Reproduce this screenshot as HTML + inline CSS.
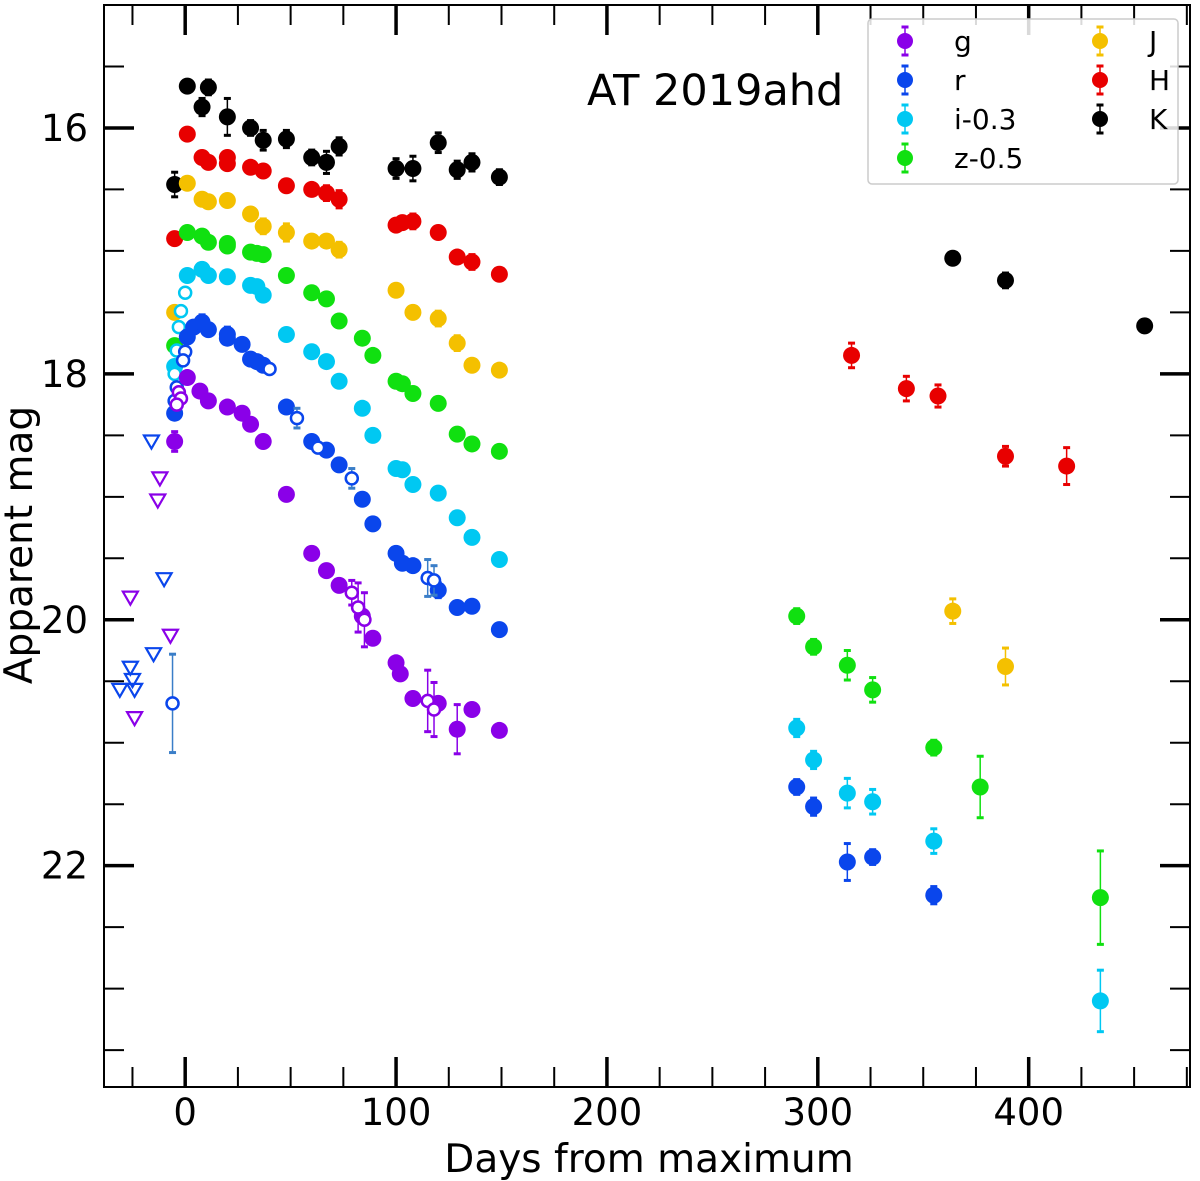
<!DOCTYPE html>
<html><head><meta charset="utf-8"><style>
html,body{margin:0;padding:0;background:#fff}
svg{display:block;font-family:"DejaVu Sans","Liberation Sans",sans-serif}
</style></head><body>
<svg id="chart" width="1200" height="1181" viewBox="0 0 1200 1181" xmlns="http://www.w3.org/2000/svg"></svg>
<script>
// ---- data ----
const kDays=[-5,1,8,11,20,31,37,48,60,67,73,100,108,120,129,136,149,364,389,455];
const kMags=[16.46,15.66,15.83,15.67,15.91,16.0,16.1,16.09,16.24,16.28,16.15,16.33,16.33,16.12,16.34,16.28,16.4,17.06,17.24,17.61];
const kErr=[0.1,0.03,0.07,0.06,0.15,0.06,0.08,0.07,0.06,0.09,0.07,0.08,0.1,0.08,0.07,0.07,0.06,0.05,0.06,0.05];
const hDays=[-5,1,8,11,20,20,31,37,48,60,67,73,100,103,108,120,129,136,149,316,342,357,389,418];
const hMags=[16.9,16.05,16.24,16.28,16.24,16.29,16.32,16.35,16.47,16.5,16.53,16.58,16.79,16.77,16.76,16.85,17.05,17.09,17.19,17.85,18.12,18.18,18.67,18.75];
const hErr=[0.05,0.02,0.05,0.05,0.05,0.05,0.03,0.03,0.05,0.05,0.06,0.07,0.04,0.04,0.06,0.05,0.05,0.06,0.05,0.1,0.1,0.09,0.08,0.15];
const jDays=[-5,1,8,11,20,31,37,48,60,67,73,100,108,120,129,136,149,364,389];
const jMags=[17.5,16.45,16.58,16.6,16.59,16.7,16.8,16.85,16.92,16.92,16.99,17.32,17.5,17.55,17.75,17.93,17.97,19.93,20.38];
const jErr=[0.03,0.02,0.03,0.03,0.03,0.03,0.06,0.07,0.04,0.05,0.06,0.04,0.05,0.06,0.06,0.05,0.04,0.1,0.15];
const zDays=[-5,1,8,11,20,20,31,34,37,48,60,67,73,84,89,100,103,108,120,129,136,149,290,298,314,326,355,377,434];
const zMags=[17.77,16.85,16.88,16.93,16.96,16.94,17.01,17.02,17.03,17.2,17.34,17.39,17.57,17.71,17.85,18.06,18.08,18.16,18.24,18.49,18.57,18.63,19.97,20.22,20.37,20.57,21.04,21.36,22.26];
const zErr=[0.03,0.02,0.02,0.02,0.02,0.02,0.02,0.02,0.02,0.02,0.02,0.02,0.02,0.02,0.02,0.02,0.02,0.02,0.02,0.05,0.03,0.02,0.06,0.06,0.12,0.1,0.06,0.25,0.38];
const iDays=[-5,1,8,11,20,31,34,37,48,60,67,73,84,89,100,103,108,120,129,136,149,290,298,314,326,355,434];
const iMags=[17.94,17.2,17.15,17.2,17.21,17.28,17.29,17.36,17.68,17.82,17.9,18.06,18.28,18.5,18.77,18.78,18.9,18.97,19.17,19.33,19.51,20.88,21.14,21.41,21.48,21.8,23.1];
const iErr=[0.02,0.02,0.02,0.02,0.02,0.02,0.02,0.02,0.02,0.02,0.02,0.02,0.02,0.02,0.02,0.02,0.02,0.02,0.02,0.02,0.02,0.07,0.07,0.12,0.1,0.1,0.25];
const iOpenDays=[0,-2,-3,-4,-5];
const iOpenMags=[17.34,17.49,17.62,17.81,18.0];
const rDays=[-5,1,4,8,11,20,20,27,31,34,37,48,60,67,73,84,89,100,103,108,120,129,136,149,290,298,314,326,355];
const rMags=[18.32,17.7,17.62,17.58,17.64,17.68,17.71,17.76,17.88,17.9,17.93,18.27,18.55,18.62,18.74,19.02,19.22,19.46,19.54,19.56,19.76,19.9,19.89,20.08,21.36,21.52,21.97,21.93,22.24];
const rErr=[0.03,0.05,0.05,0.06,0.03,0.06,0.03,0.03,0.03,0.03,0.03,0.03,0.03,0.03,0.03,0.03,0.03,0.03,0.03,0.03,0.06,0.05,0.03,0.03,0.06,0.07,0.15,0.06,0.07];
const rOpenDays=[0,-1,-4,-5,40,53,63,79,115,118,-6];
const rOpenMags=[17.82,17.89,18.11,18.22,17.96,18.36,18.6,18.85,19.66,19.68,20.68];
const rOpenErr=[0.02,0.02,0.02,0.02,0.03,0.08,0.03,0.08,0.15,0.12,0.4];
const gDays=[-5,1,7,11,20,27,31,37,48,60,67,73,84,89,100,102,108,120,129,136,149];
const gMags=[18.55,18.03,18.14,18.22,18.27,18.32,18.41,18.55,18.98,19.46,19.6,19.72,19.97,20.15,20.35,20.44,20.64,20.68,20.89,20.73,20.9];
const gErr=[0.08,0.02,0.02,0.02,0.02,0.02,0.02,0.02,0.02,0.02,0.02,0.02,0.03,0.03,0.03,0.04,0.02,0.02,0.2,0.02,0.02];
const gOpenDays=[-3,-2,-4,79,82,85,115,118];
const gOpenMags=[18.15,18.2,18.25,19.78,19.9,20.0,20.66,20.73];
const gOpenErr=[0.02,0.02,0.02,0.1,0.2,0.22,0.25,0.22];
const rLimDays=[-16,-10,-15,-26,-31,-24,-25];
const rLimMags=[18.55,19.67,20.28,20.39,20.57,20.57,20.49];
const gLimDays=[-12,-13,-26,-7,-24];
const gLimMags=[18.85,19.03,19.82,20.13,20.8];
const xTicks=[0,100,200,300,400];
const yTicks=[16,18,20,22];

const C={g:'#8a00e8',r:'#0a46ec',i:'#00c8f2',z:'#10e010',J:'#f4c000',H:'#e80000',K:'#000000'};
const L=104,R=1190,T=5,B=1087;
const X0=-38.5,X1=476.5,Y0=15.0,Y1=23.8;
function sx(d){return L+(d-X0)/(X1-X0)*(R-L);}
function sy(m){return T+(m-Y0)/(Y1-Y0)*(B-T);}
const NS='http://www.w3.org/2000/svg';
const svg=document.getElementById('chart');
function mk(tag,attrs,parent){const e=document.createElementNS(NS,tag);for(const k in attrs)e.setAttribute(k,attrs[k]);(parent||svg).appendChild(e);return e;}

const frame=mk('rect',{x:L,y:T,width:R-L,height:B-T,fill:'none',stroke:'#000','stroke-width':2});


const tg=mk('g',{});


for(let d=-25;d<=475;d+=25){const x=sx(d);const maj=d%100===0;const len=maj?30:20;const w=maj?3.5:2;
  mk('line',{x1:x,x2:x,y1:B,y2:B-len,stroke:'#000','stroke-width':w},tg);
  mk('line',{x1:x,x2:x,y1:T,y2:T+len,stroke:'#000','stroke-width':w},tg);}
for(let m=15.5;m<=23.5;m+=0.5){const y=sy(m);const maj=(m%2===0);const len=maj?30:20;const w=maj?3.5:2;
  mk('line',{x1:L,x2:L+len,y1:y,y2:y,stroke:'#000','stroke-width':w},tg);
  mk('line',{x1:R,x2:R-len,y1:y,y2:y,stroke:'#000','stroke-width':w},tg);}
xTicks.forEach(v=>{const t=mk('text',{x:sx(v),y:1125,'text-anchor':'middle','font-size':37,fill:'#000'});t.textContent=v;
  
  });
yTicks.forEach(v=>{const t=mk('text',{x:88,y:sy(v)+13,'text-anchor':'end','font-size':37,fill:'#000'});t.textContent=v;
  
  });
const xl=mk('text',{x:649,y:1172,'text-anchor':'middle','font-size':39});xl.textContent='Days from maximum';


const yl=mk('text',{x:0,y:0,'text-anchor':'middle','font-size':39,transform:'translate(32,545) rotate(-90)'});yl.textContent='Apparent mag';


const tt=mk('text',{x:587,y:105,'font-size':43});tt.textContent='AT 2019ahd';



function errbar(g,x,y,e,col,w){const y1=sy(e[0]),y2=sy(e[1]);
  mk('line',{x1:x,x2:x,y1:y1,y2:y2,stroke:col,'stroke-width':w||1.5},g);
  mk('line',{x1:x-3.5,x2:x+3.5,y1:y1,y2:y1,stroke:col,'stroke-width':3},g);
  mk('line',{x1:x-3.5,x2:x+3.5,y1:y2,y2:y2,stroke:col,'stroke-width':3},g);}
function series(name,days,mags,errs,col,open){
  const g=mk('g',{});
  
  
  days.forEach((d,k)=>{const x=sx(d),y=sy(mags[k]);
    if(errs)errbar(g,x,y,[mags[k]-errs[k],mags[k]+errs[k]],open?(col===C.r?'#3a7ec8':col):col);
    const c=open?mk('circle',{cx:x,cy:y,r:6,fill:'#fff',stroke:col,'stroke-width':2.5},g):mk('circle',{cx:x,cy:y,r:8.5,fill:col},g);
    
    });}
function limits(name,days,mags,col){
  const g=mk('g',{});
  
  
  days.forEach((d,k)=>{const x=sx(d),y=sy(mags[k]);
    const p=mk('polygon',{points:`${x-7.5},${y-6} ${x+7.5},${y-6} ${x},${y+7}`,fill:'none',stroke:col,'stroke-width':2.2},g);
    
    });}
series('k-band',kDays,kMags,kErr,C.K);
series('h-band',hDays,hMags,hErr,C.H);
series('j-band',jDays,jMags,jErr,C.J);
series('z-band',zDays,zMags,zErr,C.z);
series('i-band',iDays,iMags,iErr,C.i);
series('i-band-open',iOpenDays,iOpenMags,null,C.i,true);
series('r-band',rDays,rMags,rErr,C.r);
series('r-band-open',rOpenDays,rOpenMags,rOpenErr,C.r,true);
series('g-band',gDays,gMags,gErr,C.g);
series('g-band-open',gOpenDays,gOpenMags,gOpenErr,C.g,true);
limits('r-upper-limits',rLimDays,rLimMags,C.r);
limits('g-upper-limits',gLimDays,gLimMags,C.g);

// legend
const lg=mk('g',{});


mk('rect',{x:868,y:19,width:310,height:165,rx:4,fill:'#fff','fill-opacity':0.85,stroke:'#ccc','stroke-width':1.5},lg);
const legItems=[['g',C.g,905,41],['r',C.r,905,80],['i-0.3',C.i,905,119],['z-0.5',C.z,905,158],['J',C.J,1100,41],['H',C.H,1100,80],['K',C.K,1100,119]];
legItems.forEach(it=>{const e=mk('g',{},lg);
  
  
  const x=it[2],y=it[3];
  mk('line',{x1:x,x2:x,y1:y-14,y2:y+14,stroke:it[1],'stroke-width':1.5},e);
  mk('line',{x1:x-3.5,x2:x+3.5,y1:y-14,y2:y-14,stroke:it[1],'stroke-width':3},e);
  mk('line',{x1:x-3.5,x2:x+3.5,y1:y+14,y2:y+14,stroke:it[1],'stroke-width':3},e);
  mk('circle',{cx:x,cy:y,r:8,fill:it[1]},e);
  const t=mk('text',{x:x+49,y:y+10,'font-size':28},e);t.textContent=it[0];});
</script>
</body></html>
